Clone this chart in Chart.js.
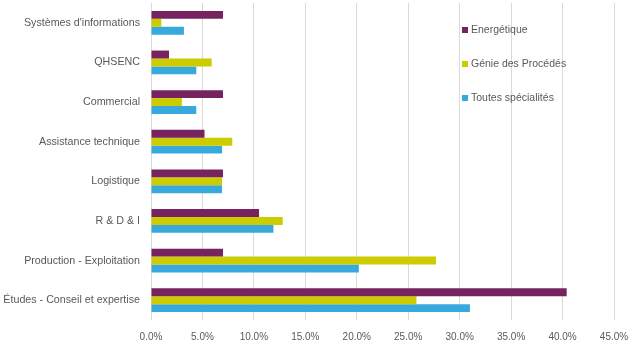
<!DOCTYPE html>
<html>
<head>
<meta charset="utf-8">
<script src="https://cdn.jsdelivr.net/npm/chart.js@4"></script>
<style>
  html, body { margin: 0; padding: 0; background: #fff; }
  #wrap { position: relative; width: 637px; height: 354px; }
  #legend { position: absolute; left: 462px; top: 21px; font: 10.5px "Liberation Sans", sans-serif; color: #595959; }
  #legend div { height: 34px; line-height: 16px; white-space: nowrap; }
  #legend span { display: inline-block; width: 6px; height: 6px; margin-right: 3px; }
</style>
</head>
<body>
<div id="wrap">
  <canvas id="chart" width="637" height="354"></canvas>
  <div id="legend"></div>
</div>
<script>
// categories, top to bottom
var categories = [
    "Systèmes d'informations",
    "QHSENC",
    "Commercial",
    "Assistance technique",
    "Logistique",
    "R & D & I",
    "Production - Exploitation",
    "Études - Conseil et expertise"
];

// percentages
var energetique = [7.0, 1.75, 7.0, 5.2, 7.0, 10.5, 7.0, 40.4];
var genieProcedes = [1.0, 5.9, 3.0, 7.9, 6.9, 12.8, 27.7, 25.8];
var toutesSpecialites = [3.2, 4.4, 4.4, 6.9, 6.9, 11.9, 20.2, 31.0];

var seriesNames = ["Energétique", "Génie des Procédés", "Toutes spécialités"];
var seriesColors = ["#76235F", "#CCCC00", "#38A9DC"];

var ctx = document.getElementById('chart').getContext('2d');
var datasets = [energetique, genieProcedes, toutesSpecialites].map(function (d, i) {
    return {
        label: seriesNames[i],
        data: d,
        backgroundColor: seriesColors[i],
        borderWidth: 0,
        barPercentage: 1,
        categoryPercentage: 0.6
    };
});

const myChart = new Chart(ctx, {
    type: 'bar',
    data: { labels: categories, datasets: datasets },
    options: {
        indexAxis: 'y',
        responsive: false,
        animation: false,
        layout: { padding: { top: 3, right: 23, bottom: 0, left: 0 } },
        plugins: { legend: { display: false }, tooltip: { enabled: false } },
        scales: {
            x: {
                min: 0,
                max: 45,
                afterFit: function (scale) {
                    scale.paddingLeft = 0;
                    scale.paddingRight = 0;
                },
                ticks: {
                    stepSize: 5,
                    color: '#595959',
                    font: { family: 'Liberation Sans', size: 10 },
                    padding: 11,
                    callback: function (v) { return v.toFixed(1) + '%'; }
                },
                grid: { color: '#D9D9D9', drawTicks: false },
                border: { display: false }
            },
            y: {
                afterFit: function (scale) {
                    scale.width = 151;
                    scale.paddingTop = 0;
                    scale.paddingBottom = 0;
                },
                ticks: {
                    color: '#595959',
                    font: { family: 'Liberation Sans', size: 10.7 },
                    padding: 11
                },
                grid: { display: false, drawTicks: false },
                border: { display: false }
            }
        }
    }
});

var legend = document.getElementById('legend');
seriesNames.forEach(function (name, i) {
    var row = document.createElement('div');
    var box = document.createElement('span');
    box.style.backgroundColor = seriesColors[i];
    row.appendChild(box);
    row.appendChild(document.createTextNode(name));
    legend.appendChild(row);
});
</script>
</body>
</html>
